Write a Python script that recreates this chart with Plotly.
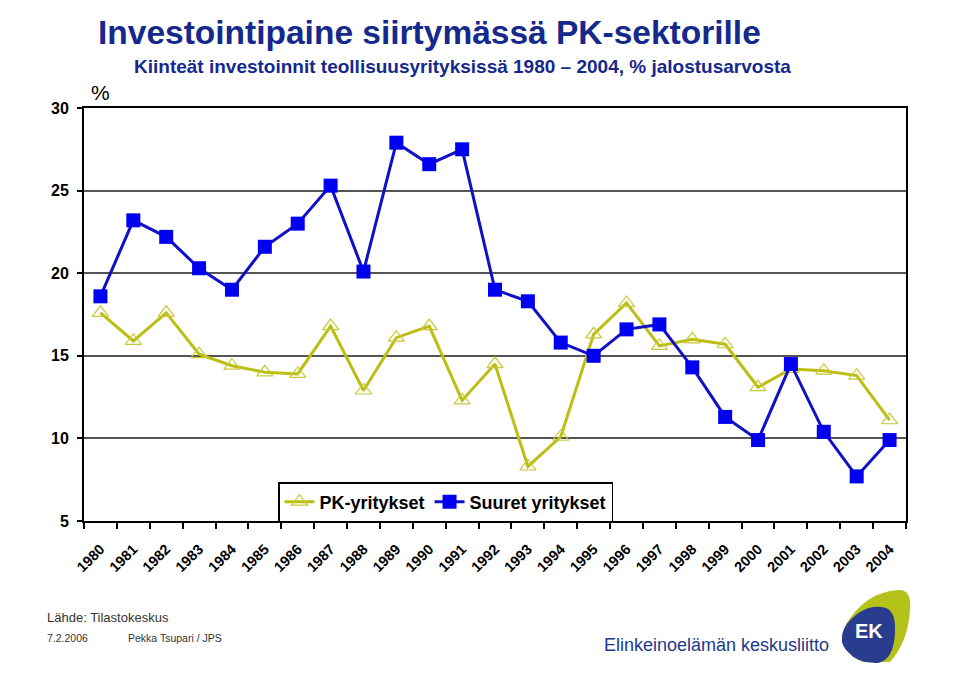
import plotly.graph_objects as go

years = [str(y) for y in range(1980, 2005)]
pk_yritykset = [17.6, 15.9, 17.6, 15.1, 14.4, 14.0, 13.9, 16.8, 12.9, 16.1, 16.8, 12.3, 14.5,
                8.3, 10.1, 16.3, 18.2, 15.6, 16.0, 15.7, 13.1, 14.2, 14.1, 13.8, 11.1]
suuret_yritykset = [18.6, 23.2, 22.2, 20.3, 19.0, 21.6, 23.0, 25.3, 20.1, 27.9, 26.6, 27.5, 19.0,
                    18.3, 15.8, 15.0, 16.6, 16.9, 14.3, 11.3, 9.9, 14.5, 10.4, 7.7, 9.9]
y_ticks = [5, 10, 15, 20, 25, 30]

OFF = 8  # page body margin
W, H = 960 - OFF, 682 - OFF
L, R, T, B = 84, 906, 108, 521  # plot area in page pixels


def px(x):
    return (x - L) / (R - L)


def py(y):
    return (B - y) / (B - T)


def P(x, y):
    return f"{px(x):.5f},{py(y):.5f}"


FONT = "Liberation Sans, Arial, sans-serif"

fig = go.Figure()
fig.add_trace(go.Scatter(
    x=years, y=pk_yritykset, name="PK-yritykset", mode="lines+markers",
    line=dict(color="#BCBE12", width=3),
    marker=dict(symbol="triangle-up-open", size=14, color="#C8C838", line=dict(width=1.2, color="#C8C838")),
))
fig.add_trace(go.Scatter(
    x=years, y=suuret_yritykset, name="Suuret yritykset", mode="lines+markers",
    line=dict(color="#1010C8", width=3),
    marker=dict(symbol="square", size=14, color="#0000F0"),
))

shapes = [
    dict(type="path", xref="paper", yref="paper", layer="above",
         path=f"M {P(846,624)} Q {P(866,592)} {P(898,590)} Q {P(912,589)} {P(910,610)} "
              f"Q {P(908,642)} {P(890,662)} L {P(862,662)} Z",
         fillcolor="#B5C21A", line=dict(width=0)),
    dict(type="path", xref="paper", yref="paper", layer="above",
         path=f"M {P(842,638)} Q {P(842,624)} {P(860,612)} Q {P(873,604)} {P(886,608)} "
              f"Q {P(896,612)} {P(895,632)} Q {P(894,660)} {P(878,663)} Q {P(858,664)} {P(848,652)} "
              f"Q {P(841,645)} {P(842,638)} Z",
         fillcolor="#2A3C8E", line=dict(width=0)),
]

annotations = [
    dict(text="Investointipaine siirtymässä PK-sektorille", x=px(96), y=py(32), xref="paper", yref="paper",
         xanchor="left", yanchor="middle", showarrow=False,
         font=dict(family=FONT, size=33.5, color="#15298C", weight="bold")),
    dict(text="Kiinteät investoinnit teollisuusyrityksissä 1980 – 2004, % jalostusarvosta", x=px(132), y=py(66),
         xref="paper", yref="paper", xanchor="left", yanchor="middle", showarrow=False,
         font=dict(family=FONT, size=19, color="#15298C", weight="bold")),
    dict(text="%", x=px(89), y=py(92), xref="paper", yref="paper", xanchor="left", yanchor="middle",
         showarrow=False, font=dict(family=FONT, size=21, color="#000000")),
    dict(text="Lähde: Tilastokeskus", x=px(45), y=py(617), xref="paper", yref="paper", xanchor="left",
         yanchor="middle", showarrow=False, font=dict(family=FONT, size=13, color="#333333")),
    dict(text="7.2.2006", x=px(45), y=py(638), xref="paper", yref="paper", xanchor="left",
         yanchor="middle", showarrow=False, font=dict(family=FONT, size=10.5, color="#333333")),
    dict(text="Pekka Tsupari / JPS", x=px(126), y=py(638), xref="paper", yref="paper", xanchor="left",
         yanchor="middle", showarrow=False, font=dict(family=FONT, size=10.5, color="#333333")),
    dict(text="Elinkeinoelämän keskusliitto", x=px(602), y=py(645), xref="paper", yref="paper", xanchor="left",
         yanchor="middle", showarrow=False, font=dict(family=FONT, size=18, color="#1E3A8A")),
    dict(text="EK", x=px(869), y=py(631), xref="paper", yref="paper", xanchor="center",
         yanchor="middle", showarrow=False, font=dict(family=FONT, size=20, color="#FFFFFF", weight="bold")),
]

fig.update_layout(
    width=W, height=H,
    margin=dict(l=L - OFF, r=W - (R - OFF), t=T - OFF, b=H - (B - OFF), pad=0),
    paper_bgcolor="white", plot_bgcolor="white",
    font=dict(family=FONT, color="#000000"),
    showlegend=True,
    legend=dict(orientation="h", x=px(278), y=py(482), xanchor="left", yanchor="top",
                bgcolor="white", bordercolor="#000000", borderwidth=1.5,
                font=dict(family=FONT, size=18, color="#000000", weight="bold"),
                itemwidth=30, tracegroupgap=0),
    shapes=shapes,
    annotations=annotations,
    xaxis=dict(type="category", categoryorder="array", categoryarray=years,
               range=[-0.5, len(years) - 0.5], tickangle=-45, tickson="boundaries",
               ticks="outside", ticklen=6, tickwidth=1.5, tickcolor="#000000", ticklabelstandoff=12,
               showline=True, linecolor="#000000", linewidth=2, mirror=True, showgrid=False,
               tickfont=dict(family=FONT, size=14.5, color="#000000", weight="bold")),
    yaxis=dict(range=[5, 30], tickvals=y_ticks, ticks="outside", ticklen=5, tickwidth=1.5,
               tickcolor="#000000", showline=True, linecolor="#000000", linewidth=2, mirror=True,
               showgrid=True, gridcolor="#555555", gridwidth=1.5, zeroline=False, ticklabelstandoff=5,
               tickfont=dict(family=FONT, size=16, color="#000000", weight="bold")),
)

fig.write_html("out.html")
